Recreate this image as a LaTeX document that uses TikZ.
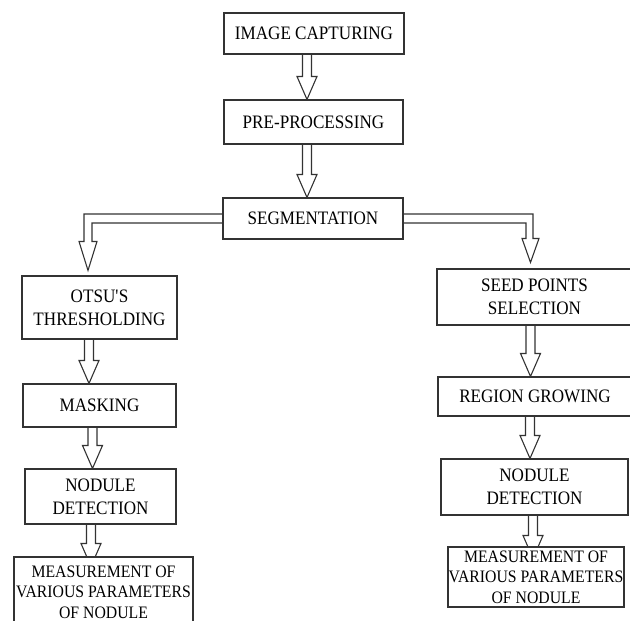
\documentclass[tikz,border=0pt]{standalone}
\usepackage{fontspec}
\setmainfont[FakeStretch=0.9]{Liberation Serif}
\usetikzlibrary{calc,backgrounds}

\tikzset{
  caja/.style={draw=black!80, line width=1.1pt, fill=white, align=center,
    inner sep=0pt, font=\fontsize{19}{23.3}\selectfont},
  cajachica/.style={caja, font=\fontsize{17.5}{20.5}\selectfont},
  flecha/.style={draw=black!80, line width=1.1pt, line join=miter}
}

% flecha de bloque: nodo origen, nodo destino, eje x, hundimiento de la punta
\newcommand{\flechabloque}[4]{%
  \draw[flecha] let \p1=(#1.south), \p2=(#2.north) in
    (#3pt-4.5pt,\y1) -- (#3pt-4.5pt,\y2+23pt-#4pt) -- (#3pt-10pt,\y2+23pt-#4pt)
    -- (#3pt,\y2-#4pt) -- (#3pt+10pt,\y2+23pt-#4pt) -- (#3pt+4.5pt,\y2+23pt-#4pt)
    -- (#3pt+4.5pt,\y1);
}

\begin{document}
\begin{tikzpicture}[x=1pt,y=-1pt]
        % Paso 1: Fija el marco de la figura
        \useasboundingbox (0,0) rectangle (630,621);
        \clip (0,0) rectangle (630,621);

        % Paso 2: Cajas de la etapa comun
        \node[caja, minimum width=180pt, minimum height=41pt] (cap) at (314,33.5) {IMAGE CAPTURING};
        \node[caja, minimum width=179pt, minimum height=44pt] (pre) at (313.5,122) {PRE-PROCESSING};
        \node[caja, minimum width=180pt, minimum height=41pt] (seg) at (313,218.5) {SEGMENTATION};

        % Paso 3: Rama izquierda (umbral de Otsu)
        \node[caja, minimum width=155pt, minimum height=63pt] (otsu) at (99.5,307.5) {OTSU\textquotesingle S\\THRESHOLDING};
        \node[caja, minimum width=153pt, minimum height=43pt] (masc) at (99.5,405.5) {MASKING};
        \node[caja, minimum width=151pt, minimum height=55pt] (nodI) at (100.5,496.5) {NODULE\\DETECTION};
        \node[cajachica, minimum width=179pt, minimum height=70pt] (medI) at (103.5,592) {MEASUREMENT OF\\VARIOUS PARAMETERS\\OF NODULE};

        % Paso 4: Rama derecha (crecimiento de regiones)
        \node[caja, minimum width=195pt, minimum height=56pt] (semilla) at (534.5,297) {SEED POINTS\\SELECTION};
        \node[caja, minimum width=194pt, minimum height=39pt] (region) at (535,396.5) {REGION GROWING};
        \node[caja, minimum width=187pt, minimum height=56pt] (nodD) at (534.5,487) {NODULE\\DETECTION};
        \node[cajachica, minimum width=176pt, minimum height=60pt] (medD) at (536,577) {MEASUREMENT OF\\VARIOUS PARAMETERS\\OF NODULE};

        % Paso 5: Flechas de bloque, detras de las cajas
        \begin{pgfonlayer}{background}
        \flechabloque{cap}{pre}{307}{0}
        \flechabloque{pre}{seg}{307}{0}
        \flechabloque{otsu}{masc}{89}{0}
        \flechabloque{masc}{nodI}{92.5}{0}
        \flechabloque{nodI}{medI}{91}{10}
        \flechabloque{semilla}{region}{530.5}{0}
        \flechabloque{region}{nodD}{530}{0}
        \flechabloque{nodD}{medD}{533}{12}

        % Paso 6: Ramales que salen de la segmentacion
        \draw[flecha] let \p1=(seg.west), \p2=(otsu.north) in
          (\x1,\y1+4.5pt) -- (84pt,\y1+4.5pt) -- (84pt,\y2+34pt) -- (79pt,\y2+34pt)
          -- (88pt,\y2+5pt) -- (97pt,\y2+34pt) -- (92pt,\y2+34pt) -- (92pt,\y1-4.5pt)
          -- (\x1,\y1-4.5pt);
        \draw[flecha] let \p1=(seg.east), \p2=(semilla.north) in
          (\x1,\y1+4.5pt) -- (533pt,\y1+4.5pt) -- (533pt,\y2+30pt) -- (539pt,\y2+30pt)
          -- (530.5pt,\y2+6pt) -- (522pt,\y2+30pt) -- (526pt,\y2+30pt) -- (526pt,\y1-4.5pt)
          -- (\x1,\y1-4.5pt);
        \end{pgfonlayer}
    \end{tikzpicture}
\end{document}
